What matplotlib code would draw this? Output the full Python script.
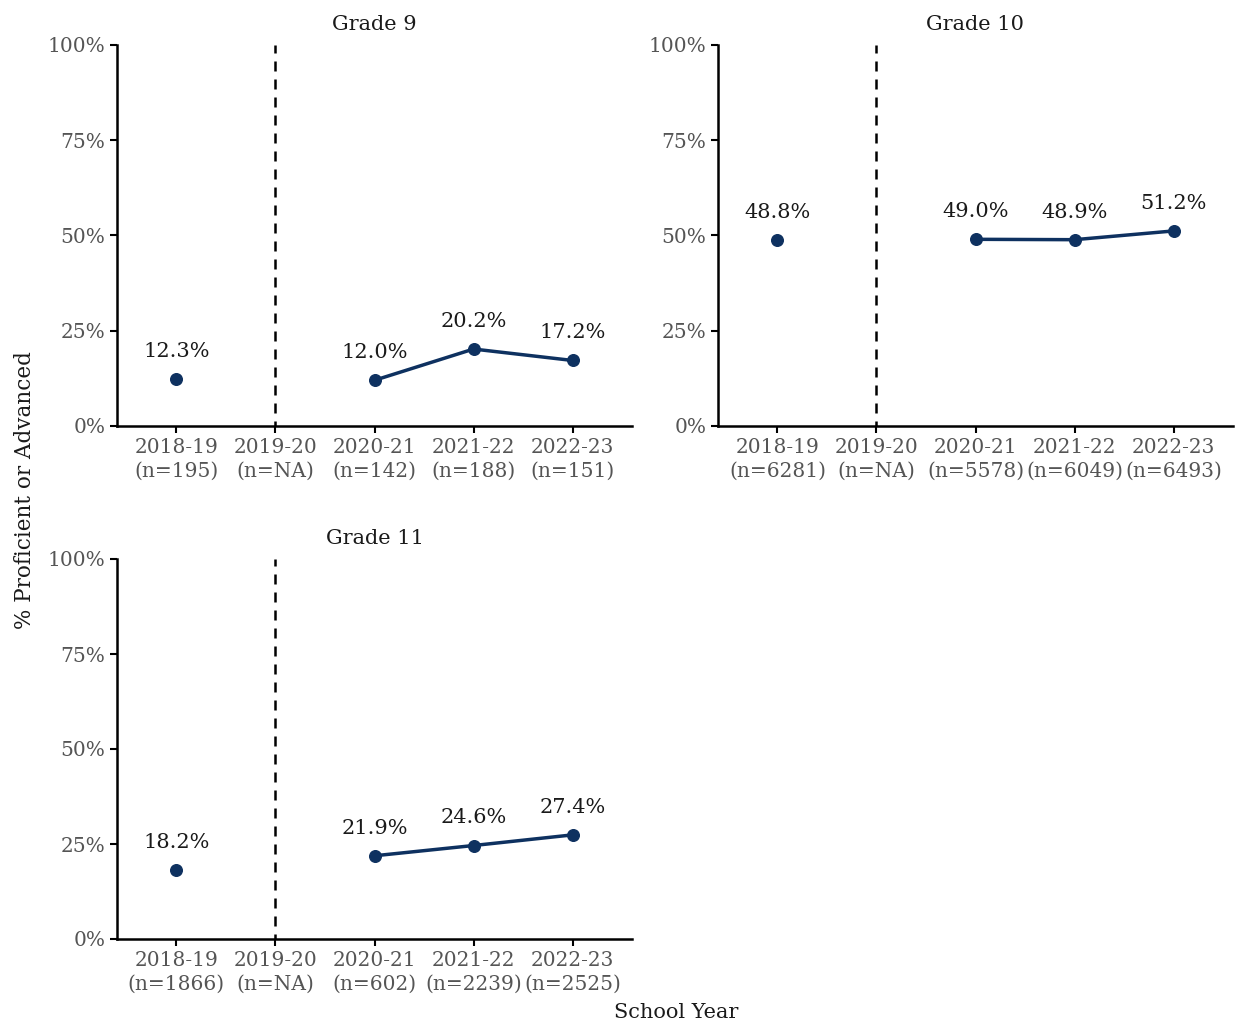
import numpy as np
import matplotlib.pyplot as plt

years = ['2018-19', '2019-20', '2020-21', '2021-22', '2022-23']
grades = ['Grade 9', 'Grade 10', 'Grade 11']
n_counts = {
    'Grade 9': ['195', 'NA', '142', '188', '151'],
    'Grade 10': ['6281', 'NA', '5578', '6049', '6493'],
    'Grade 11': ['1866', 'NA', '602', '2239', '2525'],
}
pct = {
    'Grade 9': [12.3, np.nan, 12.0, 20.2, 17.2],
    'Grade 10': [48.8, np.nan, 49.0, 48.9, 51.2],
    'Grade 11': [18.2, np.nan, 21.9, 24.6, 27.4],
}

navy = '#0e3160'
plt.rcParams['font.family'] = ['DejaVu Serif']

W, H = 1238, 1025
fig = plt.figure(figsize=(W / 100, H / 100), dpi=100)

# panel boxes in pixels: left, top, right, bottom
boxes = {
    'Grade 9': (117, 45, 632, 426),
    'Grade 10': (718, 45, 1233, 426),
    'Grade 11': (117, 559, 632, 939),
}

x = np.arange(1, 6)
for g in grades:
    l, t, r, b = boxes[g]
    ax = fig.add_axes([l / W, 1 - b / H, (r - l) / W, (b - t) / H])
    vals = np.array(pct[g]) / 100

    ax.axvline(2, ymin=0, ymax=1, color='black', linestyle=(2, (4, 3.2)), linewidth=1.8)
    ax.plot(x[2:], vals[2:], color=navy, linewidth=2.5, zorder=3)
    ax.scatter(x[[0, 2, 3, 4]], vals[[0, 2, 3, 4]], s=70, color=navy, zorder=4)
    for xi, v in zip(x, vals):
        if not np.isnan(v):
            ax.annotate(f'{v * 100:.1f}%', (xi, v), xytext=(0, 13), textcoords='offset points',
                        ha='center', va='bottom', fontsize=15, color='#1a1a1a')

    ax.set_xlim(0.4, 5.6)
    ax.set_ylim(0, 1)
    ax.set_yticks([0, 0.25, 0.5, 0.75, 1.0])
    ax.set_yticklabels(['0%', '25%', '50%', '75%', '100%'])
    ax.set_xticks(x)
    ax.set_xticklabels([f'{y}\n(n={n})' for y, n in zip(years, n_counts[g])], linespacing=1.3)
    ax.tick_params(labelsize=14.5, labelcolor='#555555', length=5, width=1.5, color='black')
    for s in ['top', 'right']:
        ax.spines[s].set_visible(False)
    for s in ['left', 'bottom']:
        ax.spines[s].set_linewidth(1.8)
    ax.set_title(g, fontsize=15, pad=11, color='#1a1a1a')

fig.text(25 / W, 1 - 490 / H, '% Proficient or Advanced', rotation=90, ha='center', va='center',
         fontsize=15.5, color='#1a1a1a')
fig.text(676 / W, 1 - 1013 / H, 'School Year', ha='center', va='center', fontsize=15, color='#1a1a1a')

fig.savefig('out.png', dpi=100)
